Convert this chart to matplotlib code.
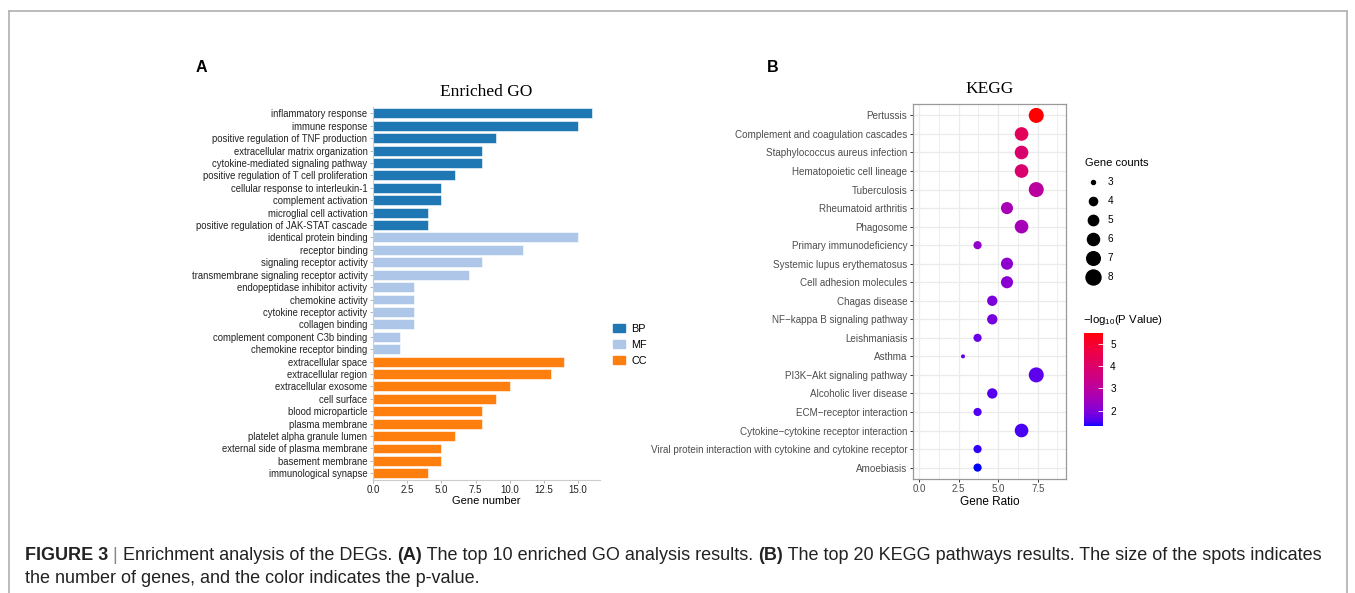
import numpy as np
import matplotlib
matplotlib.use("Agg")
import matplotlib.pyplot as plt
from matplotlib.colors import ListedColormap, Normalize
from matplotlib.lines import Line2D
from matplotlib.patches import Patch
from matplotlib.cm import ScalarMappable
from matplotlib.text import Annotation

plt.rcParams['font.family'] = ['Liberation Sans', 'DejaVu Sans']
plt.rcParams['mathtext.fontset'] = 'custom'
plt.rcParams['mathtext.rm'] = 'Liberation Sans'
plt.rcParams['mathtext.it'] = 'Liberation Sans'

# ---- GO enrichment (panel A) ----
bp_terms = ["inflammatory response", "immune response", "positive regulation of TNF production",
            "extracellular matrix organization", "cytokine-mediated signaling pathway",
            "positive regulation of T cell proliferation", "cellular response to interleukin-1",
            "complement activation", "microglial cell activation",
            "positive regulation of JAK-STAT cascade"]
bp_counts = [16, 15, 9, 8, 8, 6, 5, 5, 4, 4]
mf_terms = ["identical protein binding", "receptor binding", "signaling receptor activity",
            "transmembrane signaling receptor activity", "endopeptidase inhibitor activity",
            "chemokine activity", "cytokine receptor activity", "collagen binding",
            "complement component C3b binding", "chemokine receptor binding"]
mf_counts = [15, 11, 8, 7, 3, 3, 3, 3, 2, 2]
cc_terms = ["extracellular space", "extracellular region", "extracellular exosome", "cell surface",
            "blood microparticle", "plasma membrane", "platelet alpha granule lumen",
            "external side of plasma membrane", "basement membrane", "immunological synapse"]
cc_counts = [14, 13, 10, 9, 8, 8, 6, 5, 5, 4]

# ---- KEGG pathways (panel B) ----
kegg_terms = ["Pertussis", "Complement and coagulation cascades", "Staphylococcus aureus infection",
              "Hematopoietic cell lineage", "Tuberculosis", "Rheumatoid arthritis", "Phagosome",
              "Primary immunodeficiency", "Systemic lupus erythematosus", "Cell adhesion molecules",
              "Chagas disease", "NF\u2212kappa B signaling pathway", "Leishmaniasis", "Asthma",
              "PI3K\u2212Akt signaling pathway", "Alcoholic liver disease", "ECM\u2212receptor interaction",
              "Cytokine\u2212cytokine receptor interaction",
              "Viral protein interaction with cytokine and cytokine receptor", "Amoebiasis"]
kegg_ratio = [7.41, 6.48, 6.48, 6.48, 7.41, 5.56, 6.48, 3.70, 5.56, 5.56,
              4.63, 4.63, 3.70, 2.78, 7.41, 4.63, 3.70, 6.48, 3.70, 3.70]
kegg_counts = [8, 7, 7, 7, 8, 6, 7, 4, 6, 6, 5, 5, 4, 3, 8, 5, 4, 7, 4, 4]
kegg_logp = [5.51, 4.25, 3.95, 3.90, 3.00, 2.60, 2.55, 2.25, 2.15, 2.12,
             1.92, 1.88, 1.74, 1.68, 1.65, 1.60, 1.56, 1.52, 1.42, 1.31]
size_legend = [3, 4, 5, 6, 7, 8]


def lab_to_rgb(L, a, b):
    fy = (L + 16) / 116
    fx = fy + a / 500
    fz = fy - b / 200

    def finv(t):
        return np.where(t > 6 / 29, t ** 3, 3 * (6 / 29) ** 2 * (t - 4 / 29))
    xyz = np.stack([0.95047 * finv(fx), finv(fy), 1.08883 * finv(fz)])
    m = np.array([[3.2406, -1.5372, -0.4986],
                  [-0.9689, 1.8758, 0.0415],
                  [0.0557, -0.2040, 1.0570]])
    lin = m @ xyz
    rgb = np.where(lin <= 0.0031308, 12.92 * lin, 1.055 * np.clip(lin, 0, None) ** (1 / 2.4) - 0.055)
    return np.clip(rgb.T, 0, 1)


# blue -> red gradient interpolated in Lab, like ggplot's scale_colour_gradient
t = np.linspace(0, 1, 256)
blue_lab = np.array([32.30, 79.19, -107.86])
red_lab = np.array([53.24, 80.09, 67.20])
lab = blue_lab[None, :] * (1 - t[:, None]) + red_lab[None, :] * t[:, None]
cmap = ListedColormap(lab_to_rgb(lab[:, 0], lab[:, 1], lab[:, 2]))
norm = Normalize(vmin=min(kegg_logp), vmax=max(kegg_logp))


def dot_px(c):
    return 4 + 11 * ((np.asarray(c, float) - 3) / 5) ** 0.6


fig = plt.figure(figsize=(13.55, 5.93), dpi=100)

# outer frame (open at the bottom)
frame_kw = dict(color='#b5b5b5', lw=1.3, transform=fig.transFigure)
fig.add_artist(Line2D([9 / 1355, 1347 / 1355], [1 - 11 / 593] * 2, **frame_kw))
fig.add_artist(Line2D([9 / 1355] * 2, [0, 1 - 11 / 593], **frame_kw))
fig.add_artist(Line2D([1347 / 1355] * 2, [0, 1 - 11 / 593], **frame_kw))

# ---------- panel A ----------
axA = fig.add_axes([373 / 1355, 1 - 479.5 / 593, 227 / 1355, 372.4 / 593])
terms = bp_terms + mf_terms + cc_terms
counts = bp_counts + mf_counts + cc_counts
colors = ['#1f77b4'] * len(bp_terms) + ['#aec7e8'] * len(mf_terms) + ['#ff7f0e'] * len(cc_terms)
ypos = np.arange(len(terms))
axA.barh(ypos, counts, height=0.8, color=colors, edgecolor='white', linewidth=0.4)
axA.set_yticks(ypos)
axA.set_yticklabels(terms, fontsize=6.85, color='#222222')
axA.set_ylim(len(terms) - 0.5, -0.5)
axA.set_xlim(0, 16.6)
axA.set_xticks([0, 2.5, 5, 7.5, 10, 12.5, 15])
axA.set_xticklabels(['0.0', '2.5', '5.0', '7.5', '10.0', '12.5', '15.0'], fontsize=7, color='#222222')
axA.set_xlabel('Gene number', fontsize=8, labelpad=1)
for side in ['top', 'right']:
    axA.spines[side].set_visible(False)
for side in ['left', 'bottom']:
    axA.spines[side].set_color('#cccccc')
    axA.spines[side].set_linewidth(0.8)
axA.tick_params(axis='both', length=2.5, width=0.6, color='#aaaaaa', pad=1.5)
axA.set_title('Enriched GO', fontsize=12.5, family='Liberation Serif', pad=8)

handles = [Patch(color='#1f77b4', label='BP'), Patch(color='#aec7e8', label='MF'),
           Patch(color='#ff7f0e', label='CC')]
fig.legend(handles=handles, loc='upper left', bbox_to_anchor=(603 / 1355, 1 - 314 / 593),
           frameon=False, fontsize=7.8, handlelength=1.1, handleheight=0.7,
           handletextpad=0.6, labelspacing=0.55)

fig.text(201 / 1355, 1 - 68 / 593, 'A', fontsize=11.5, fontweight='bold', ha='center', va='center')
fig.text(773 / 1355, 1 - 68 / 593, 'B', fontsize=11.5, fontweight='bold', ha='center', va='center')

# ---------- panel B ----------
axB = fig.add_axes([913 / 1355, 1 - 478.7 / 593, 153 / 1355, 374.4 / 593])
yk = np.arange(len(kegg_terms))
axB.scatter(kegg_ratio, yk, s=(dot_px(kegg_counts) * 0.72) ** 2, c=kegg_logp,
            cmap=cmap, norm=norm, linewidths=0, zorder=3)
axB.set_yticks(yk)
axB.set_yticklabels(kegg_terms, fontsize=7.1, color='#4d4d4d')
axB.set_ylim(len(kegg_terms) - 0.4, -0.6)
axB.set_xlim(-0.38, 9.29)
axB.set_xticks([0, 2.5, 5, 7.5])
axB.set_xticklabels(['0.0', '2.5', '5.0', '7.5'], fontsize=7, color='#4d4d4d')
axB.set_xticks([1.25, 3.75, 6.25, 8.75], minor=True)
axB.grid(True, which='major', color='#ebebeb', lw=0.9, zorder=0)
axB.grid(True, which='minor', axis='x', color='#ebebeb', lw=0.6, zorder=0)
axB.set_axisbelow(True)
for side in axB.spines.values():
    side.set_color('#999999')
    side.set_linewidth(0.9)
axB.tick_params(axis='both', which='major', length=2.5, width=0.7, color='#333333', pad=1.5)
axB.tick_params(axis='x', which='minor', length=0)
axB.set_xlabel('Gene Ratio', fontsize=8.5, labelpad=1)
axB.set_title('KEGG', fontsize=12.5, family='Liberation Serif', pad=8)

# size legend
size_handles = [Line2D([], [], ls='none', marker='o', color='black',
                       markersize=float(dot_px(c)) * 0.72, label=str(c)) for c in size_legend]
fig.legend(handles=size_handles, loc='upper left', bbox_to_anchor=(1078 / 1355, 1 - 151 / 593),
           frameon=False, fontsize=7.2, title='Gene counts', title_fontsize=8,
           alignment='left', handletextpad=0.7, labelspacing=0.9, borderpad=0.2,
           handlelength=1.6)

# colour bar
cax = fig.add_axes([1084.3 / 1355, 1 - 426 / 593, 19 / 1355, 93.3 / 593])
cb = fig.colorbar(ScalarMappable(norm=norm, cmap=cmap), cax=cax, ticks=[2, 3, 4, 5])
cb.outline.set_visible(False)
cax.tick_params(length=3.5, width=0.6, color='white', direction='in', labelsize=7.2, pad=5)
fig.text(1083 / 1355, 1 - 320 / 593, r'$-\mathrm{log}_{10}$(P Value)', fontsize=8.2,
         ha='left', va='center')

# caption, chained so each piece starts where the previous one ends
cap_fs = 13
pieces = [(" | ", 'normal', '#888888'),
          ("Enrichment analysis of the DEGs. ", 'normal', '#222222'), ("(A)", 'bold', '#222222'),
          (" The top 10 enriched GO analysis results. ", 'normal', '#222222'),
          ("(B)", 'bold', '#222222'),
          (" The top 20 KEGG pathways results. The size of the spots indicates", 'normal', '#222222')]
prev = fig.text(25 / 1355, 1 - 564 / 593, "FIGURE 3", fontsize=cap_fs, fontweight='bold',
                color='#222222', va='bottom')
for txt, wt, col in pieces:
    prev = fig.add_artist(Annotation(txt, xy=(1, 0), xycoords=prev, va='bottom',
                                     fontsize=cap_fs, fontweight=wt, color=col))
fig.text(25 / 1355, 1 - 587 / 593, "the number of genes, and the color indicates the p-value.",
         fontsize=cap_fs, color='#222222', va='bottom')

fig.savefig('out.png', dpi=100)
